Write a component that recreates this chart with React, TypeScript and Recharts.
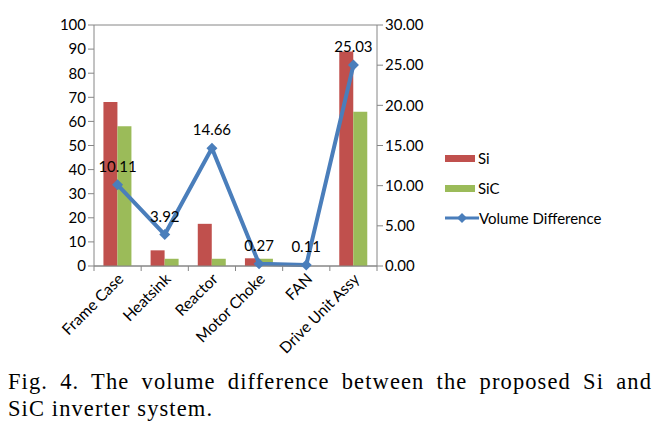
import React from "react";
import {
  Bar,
  CartesianGrid,
  ComposedChart,
  LabelList,
  Line,
  XAxis,
  YAxis,
} from "recharts";

const categories = ["Frame Case", "Heatsink", "Reactor", "Motor Choke", "FAN", "Drive Unit Assy"];
const siValues = [68, 6.5, 17.5, 3.2, 0, 89];
const sicValues = [58, 3, 3, 3, 0, 64];
const volumeDiff = [10.11, 3.92, 14.66, 0.27, 0.11, 25.03];
const leftTicks = [0, 10, 20, 30, 40, 50, 60, 70, 80, 90, 100];
const rightTicks = [0, 5, 10, 15, 20, 25, 30];

const data = categories.map((name, i) => ({
  name,
  si: siValues[i],
  sic: sicValues[i],
  diff: volumeDiff[i],
}));

const RED = "#c0504d";
const GREEN = "#9bbb59";
const BLUE = "#4a7ebb";
const AXIS = "#868686";
const FONT = "Lato, 'Open Sans', sans-serif";

const CHART_W = 645;
const CHART_H = 350;
const LEFT_W = 86;
const RIGHT_W = 60;
const MARGIN = { top: 17, right: 216, bottom: 2, left: 0 };
const BAND = (CHART_W - MARGIN.left - MARGIN.right - LEFT_W - RIGHT_W) / categories.length;

function CategoryTick(props: any) {
  const { x, y, payload, index } = props;
  const last = index === categories.length - 1;
  return (
    <g>
      <line x1={x - BAND / 2} x2={x - BAND / 2} y1={y - 8} y2={y - 3} stroke={AXIS} />
      {last && <line x1={x + BAND / 2} x2={x + BAND / 2} y1={y - 8} y2={y - 3} stroke={AXIS} />}
      <text
        x={x + 7}
        y={y + 6}
        textAnchor="end"
        fontSize={15.5}
        fontFamily={FONT}
        fill="#000"
        transform={`rotate(-45, ${x + 7}, ${y + 6})`}
      >
        {payload.value}
      </text>
    </g>
  );
}

function Diamond(props: any) {
  const { cx, cy } = props;
  if (cx == null || cy == null) return null;
  const r = 5.5;
  return <path d={`M${cx},${cy - r}L${cx + r},${cy}L${cx},${cy + r}L${cx - r},${cy}Z`} fill={BLUE} />;
}

function LegendBox() {
  const row = { display: "flex", alignItems: "center", height: 30, fontSize: 15, fontFamily: FONT };
  return (
    <div style={{ position: "absolute", left: 437, top: 135, color: "#000" }}>
      <div style={row}>
        <span style={{ display: "inline-block", width: 30, height: 7, background: RED, marginRight: 3 }} />
        Si
      </div>
      <div style={row}>
        <span style={{ display: "inline-block", width: 30, height: 7, background: GREEN, marginRight: 3 }} />
        SiC
      </div>
      <div style={row}>
        <svg width={34} height={12}>
          <line x1={0} x2={34} y1={6} y2={6} stroke={BLUE} strokeWidth={3} />
          <path d="M17,1L22,6L17,11L12,6Z" fill={BLUE} />
        </svg>
        Volume Difference
      </div>
    </div>
  );
}

export default function App() {
  return (
    <div style={{ width: 645 }}>
      <div style={{ position: "relative", width: CHART_W, height: CHART_H }}>
        <ComposedChart width={CHART_W} height={CHART_H} data={data} margin={MARGIN} barGap={0} barCategoryGap="20%">
          <CartesianGrid vertical={false} stroke={AXIS} />
          <XAxis
            dataKey="name"
            height={90}
            interval={0}
            stroke={AXIS}
            tickLine={false}
            tick={<CategoryTick />}
          />
          <YAxis
            yAxisId="left"
            width={LEFT_W}
            domain={[0, 100]}
            ticks={leftTicks}
            interval={0}
            stroke={AXIS}
            tickSize={6}
            tick={{ fill: "#000", fontSize: 15, fontFamily: FONT }}
          />
          <YAxis
            yAxisId="right"
            orientation="right"
            width={RIGHT_W}
            domain={[0, 30]}
            ticks={rightTicks}
            interval={0}
            stroke={AXIS}
            tickSize={6}
            tickFormatter={(v: number) => v.toFixed(2)}
            tick={{ fill: "#000", fontSize: 15, fontFamily: FONT }}
          />
          <Bar yAxisId="left" dataKey="si" name="Si" fill={RED} isAnimationActive={false} />
          <Bar yAxisId="left" dataKey="sic" name="SiC" fill={GREEN} isAnimationActive={false} />
          <Line
            yAxisId="right"
            type="linear"
            dataKey="diff"
            name="Volume Difference"
            stroke={BLUE}
            strokeWidth={4}
            dot={<Diamond />}
            isAnimationActive={false}
          >
            <LabelList
              dataKey="diff"
              position="top"
              offset={13}
              formatter={(v: any) => Number(v).toFixed(2)}
              style={{ fill: "#000", fontSize: 15, fontFamily: FONT }}
            />
          </Line>
        </ComposedChart>
        <LegendBox />
      </div>
      <div
        style={{
          marginTop: 10,
          width: 644,
          fontFamily: "'Liberation Serif', 'DejaVu Serif', serif",
          fontSize: 22.5,
          lineHeight: "27px",
          letterSpacing: 1.1,
          color: "#000",
        }}
      >
        <div style={{ textAlign: "justify", textAlignLast: "justify" }}>
          Fig. 4. The volume difference between the proposed Si and
        </div>
        <div>SiC inverter system.</div>
      </div>
    </div>
  );
}
